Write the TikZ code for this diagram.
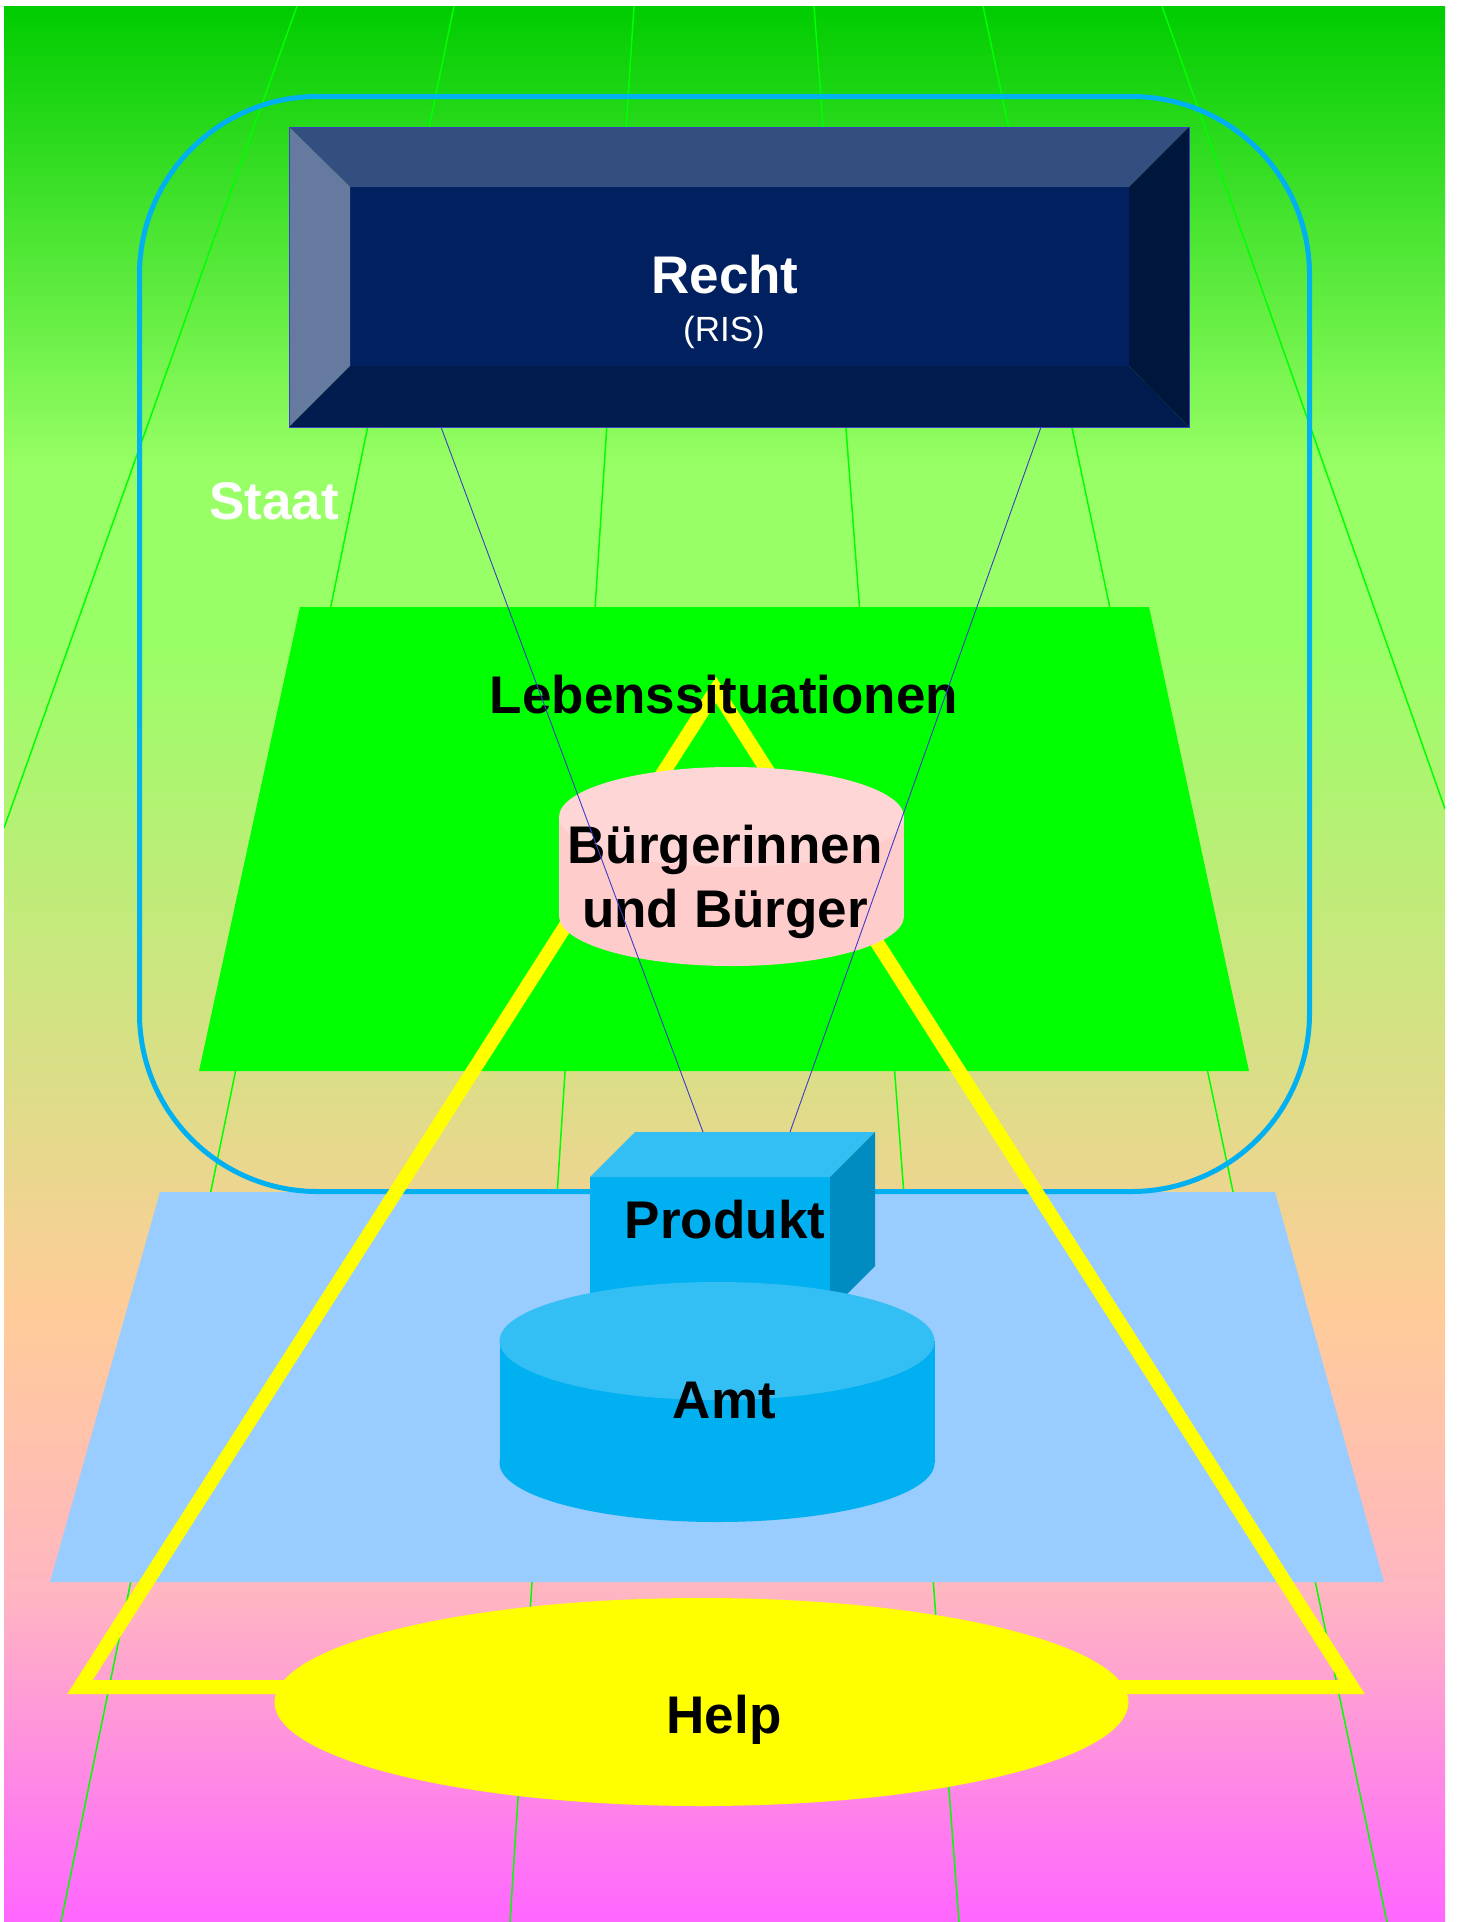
\documentclass[tikz,border=0pt]{standalone}
\usepackage{fontspec}
\setmainfont{Liberation Sans}
\definecolor{bgA}{RGB}{0,204,0}
\definecolor{bgB}{RGB}{153,255,102}
\definecolor{bgC}{RGB}{255,204,153}
\definecolor{bgD}{RGB}{255,182,193}
\definecolor{bgE}{RGB}{255,102,255}
\definecolor{lineGreen}{RGB}{0,255,0}
\definecolor{planeGreen}{RGB}{0,255,0}
\definecolor{planeBlue}{RGB}{153,204,255}
\definecolor{staatBlue}{RGB}{0,176,240}
\definecolor{cyanMain}{RGB}{0,176,240}
\definecolor{cyanTop}{RGB}{51,191,243}
\definecolor{cyanDark}{RGB}{0,140,192}
\definecolor{pinkBody}{RGB}{255,204,204}
\definecolor{pinkTop}{RGB}{255,214,214}
\definecolor{helpYellow}{RGB}{255,255,0}
\definecolor{rechtMid}{RGB}{0,32,96}
\definecolor{rechtTop}{RGB}{51,79,128}
\definecolor{rechtLeft}{RGB}{102,121,159}
\definecolor{rechtBot}{RGB}{0,27,77}
\definecolor{rechtRight}{RGB}{0,22,60}
\definecolor{linkBlue}{RGB}{60,60,200}
\pgfdeclareverticalshading{bgshade}{100bp}{color(0bp)=(bgE); color(25bp)=(bgE); color(33.66bp)=(bgD); color(40.97bp)=(bgC); color(58.46bp)=(bgB); color(62.89bp)=(bgB); color(75bp)=(bgA); color(100bp)=(bgA)}
\begin{document}
\begin{tikzpicture}[x=1pt,y=-1pt,
  lbl/.style={inner sep=0pt, anchor=base, font=\bfseries\fontsize{53}{64}\selectfont},
  gline/.style={draw=lineGreen, line width=1.5pt},
  link/.style={draw=linkBlue, line width=0.9pt}]
\useasboundingbox (0,0) rectangle (1459,1922);
% background
\shade[shading=bgshade] (4,6) rectangle (1445,1922);
\begin{scope}
\clip (4,6) rectangle (1445,1922);
\foreach \ax/\ay/\bx/\by in {297/6/4/828, 454/6/61/1922, 634/6/510/1922, 814/6/959/1922, 983/6/1387/1922, 1162/6/1445/809}
  \draw[gline] (\ax,\ay) -- (\bx,\by);
\end{scope}
% Lebenssituationen plane
\fill[planeGreen] (300,607) -- (1149,607) -- (1249,1071) -- (199,1071) -- cycle;
% Recht bevel box
\fill[rechtMid] (350,187) rectangle (1129,366);
\fill[rechtTop] (289,127) -- (1189,127) -- (1129,187) -- (350,187) -- cycle;
\fill[rechtLeft] (289,127) -- (350,187) -- (350,366) -- (289,427) -- cycle;
\fill[rechtBot] (289,427) -- (350,366) -- (1129,366) -- (1189,427) -- cycle;
\fill[rechtRight] (1189,127) -- (1129,187) -- (1129,366) -- (1189,427) -- cycle;
\draw[linkBlue, line width=0.6pt] (289,127) rectangle (1189,427);
% Amt plane
\fill[planeBlue] (160,1192) -- (1275,1192) -- (1384,1582) -- (50,1582) -- cycle;
% Staat outline
\draw[staatBlue, line width=5pt, rounded corners=178pt] (139.5,96.5) rectangle (1309.5,1191.5);
% yellow triangle
\draw[helpYellow, line width=14pt, miter limit=10] (716,690) -- (80,1687) -- (1352,1687) -- cycle;
% Buerger cylinder
\fill[pinkBody] (559,817) rectangle (904,916);
\fill[pinkBody] (731.5,916) ellipse [x radius=172.5, y radius=50];
\fill[pinkTop] (731.5,817) ellipse [x radius=172.5, y radius=50];
% Produkt cube
\fill[cyanMain] (590,1177) rectangle (830,1311);
\fill[cyanTop] (590,1177) -- (635,1132) -- (875,1132) -- (830,1177) -- cycle;
\fill[cyanDark] (830,1177) -- (875,1132) -- (875,1266) -- (830,1311) -- cycle;
% Amt cylinder
\fill[cyanMain] (499.5,1341) rectangle (934.5,1463);
\fill[cyanMain] (717,1463) ellipse [x radius=217.5, y radius=59];
\fill[cyanTop] (717,1341) ellipse [x radius=217.5, y radius=59];
% Help ellipse
\fill[helpYellow] (701.5,1702) ellipse [x radius=427, y radius=104];
% texts
\node[lbl, text=white] (recht) at (725,293.5) {Recht};
\node[inner sep=0pt, anchor=base, text=white, font=\fontsize{35}{42}\selectfont] (ris) at (724,341) {(RIS)};
\node[lbl, text=white] (staat) at (274,519) {Staat};
\node[lbl] (leben) at (724,713) {Lebenssituationen};
\node[lbl] (buergerA) at (725,863) {Bürgerinnen};
\node[lbl] (buergerB) at (725,927) {und Bürger};
\node[lbl] (produkt) at (725,1238) {Produkt};
\node[lbl] (amt) at (724.5,1418) {Amt};
\node[lbl] (help) at (724,1733) {Help};
% links
\coordinate (rL) at (441,427);
\coordinate (rR) at (1041,427);
\coordinate (pL) at (703,1132);
\coordinate (pR) at (790,1132);
\draw[link] (rL) -- (pL);
\draw[link] (rR) -- (pR);
\end{tikzpicture}
\end{document}
